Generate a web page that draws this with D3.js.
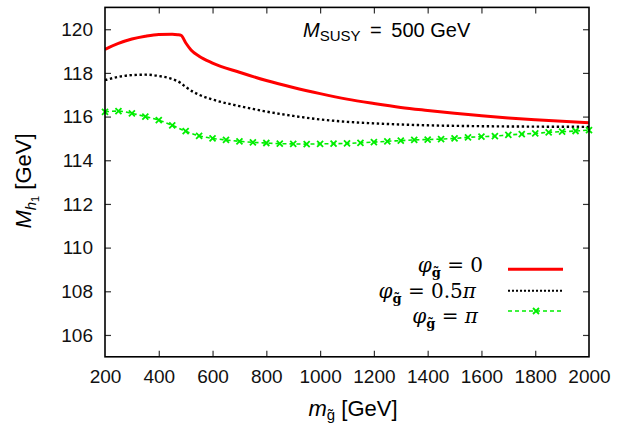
<!DOCTYPE html>
<html><head><meta charset="utf-8">
<script src="https://cdn.jsdelivr.net/npm/d3@7"></script>
<style>body{margin:0;background:#fff}svg{display:block}</style>
</head><body>
<svg id="c" width="617" height="424"></svg>
<script>
const xTicks = [200,400,600,800,1000,1200,1400,1600,1800,2000];
const yTicks = [106,108,110,112,114,116,118,120];

const redMass = [200,250,300,350,400,450,470,483,500,520,550,600,700,800,900,1000,1100,1200,1300,1400,1500,1600,1700,1800,1900,2000];
const redVal  = [119.08,119.35,119.55,119.68,119.76,119.77,119.75,119.72,119.38,119.05,118.76,118.45,118.03,117.65,117.33,117.05,116.80,116.60,116.42,116.28,116.15,116.04,115.94,115.86,115.79,115.72];

const blkMass = [200,250,300,350,400,450,480,500,530,550,600,700,800,900,1000,1100,1200,1400,1600,1800,2000];
const blkVal  = [117.67,117.82,117.90,117.92,117.86,117.72,117.55,117.36,117.12,117.00,116.78,116.48,116.23,116.03,115.87,115.76,115.69,115.60,115.56,115.54,115.53];

const grnMass = [200,250,300,350,400,450,500,550,600,650,700,750,800,850,900,950,1000,1050,1100,1150,1200,1250,1300,1350,1400,1450,1500,1550,1600,1650,1700,1750,1800,1850,1900,1950,2000];
const grnVal  = [116.22,116.25,116.15,116.00,115.84,115.60,115.33,115.12,115.00,114.93,114.87,114.82,114.79,114.76,114.75,114.74,114.75,114.76,114.77,114.80,114.83,114.87,114.90,114.93,114.95,114.97,115.00,115.05,115.08,115.11,115.16,115.20,115.23,115.28,115.31,115.34,115.38];

const svg = d3.select("#c");
const L=105, R=589, T=7.4, B=356.8;
const x = d3.scaleLinear().domain([200,2000]).range([L,R]);
const y = d3.scaleLinear().domain([105,121]).range([B,T]);
const sans = "'Liberation Sans', Arial, sans-serif";
const serif = "'DejaVu Serif', 'Liberation Serif', serif";

// ticks (inward on all sides)
const gx = svg.append("g").attr("transform",`translate(0,${B})`)
  .call(d3.axisBottom(x).tickValues(xTicks).tickSize(-6).tickPadding(13).tickFormat(d3.format("d")));
const gxt = svg.append("g").attr("transform",`translate(0,${T})`)
  .call(d3.axisTop(x).tickValues(xTicks).tickSize(-6).tickFormat(""));
const gy = svg.append("g").attr("transform",`translate(${L},0)`)
  .call(d3.axisLeft(y).tickValues(yTicks).tickSize(-6).tickPadding(12).tickFormat(d3.format("d")));
const gyr = svg.append("g").attr("transform",`translate(${R},0)`)
  .call(d3.axisRight(y).tickValues(yTicks).tickSize(-6).tickFormat(""));
[gx,gxt,gy,gyr].forEach(g=>{
  g.select(".domain").remove();
  g.selectAll(".tick line").attr("stroke","#333").attr("stroke-width",1.2);
  g.selectAll("text").attr("font-family",sans).attr("font-size",19).attr("fill","#111");
});
gx.selectAll("text").attr("dy","0.71em");
gx.selectAll(".tick").filter(d=>d===200||d===2000).select("line").remove();
gxt.selectAll(".tick").filter(d=>d===200||d===2000).select("line").remove();

// curves
const line = d3.line().curve(d3.curveMonotoneX);
svg.append("clipPath").attr("id","clp").append("rect")
  .attr("x",L).attr("y",T).attr("width",R-L).attr("height",B-T);
const plot = svg.append("g").attr("clip-path","url(#clp)");

const grnPts = grnMass.map((m,i)=>[x(m),y(grnVal[i])]);
plot.append("path").attr("d",line(grnPts)).attr("fill","none")
  .attr("stroke","#00ee00").attr("stroke-width",1.6).attr("stroke-dasharray","4,3");
const cross = (g,px,py,s)=>{
  g.append("path").attr("d",`M${px-s},${py-s}L${px+s},${py+s}M${px-s},${py+s}L${px+s},${py-s}`)
   .attr("stroke","#00ee00").attr("stroke-width",1.8).attr("fill","none");
};
grnPts.forEach(p=>cross(svg,p[0],p[1],3));

plot.append("path").attr("d",line(blkMass.map((m,i)=>[x(m),y(blkVal[i])]))).attr("fill","none")
  .attr("stroke","#000").attr("stroke-width",2.4).attr("stroke-dasharray","2.4,2.6");

plot.append("path").attr("d",line(redMass.map((m,i)=>[x(m),y(redVal[i])]))).attr("fill","none")
  .attr("stroke","#ff0000").attr("stroke-width",3);

// frame
svg.append("rect").attr("x",L).attr("y",T).attr("width",R-L).attr("height",B-T)
  .attr("fill","none").attr("stroke","#000").attr("stroke-width",1.6);

// title
const title = svg.append("text").attr("x",303).attr("y",37).attr("font-family",sans).attr("font-size",20).attr("fill","#000");
title.append("tspan").attr("font-style","italic").text("M");
title.append("tspan").attr("font-size",15).attr("dy",4).text("SUSY");
title.append("tspan").attr("dy",-4).text(" \u2009=\u2009 500 GeV");

// x label
const xl = svg.append("text").attr("x",353).attr("y",416).attr("text-anchor","middle")
  .attr("font-family",sans).attr("font-size",22).attr("fill","#000");
xl.append("tspan").attr("font-style","italic").text("m");
xl.append("tspan").attr("font-size",15).attr("dy",4).text("g\u0303");
xl.append("tspan").attr("dy",-4).text("  [GeV]");

// y label
const yl = svg.append("text").attr("transform","translate(31,181) rotate(-90)").attr("text-anchor","middle")
  .attr("font-family",sans).attr("font-size",22).attr("fill","#000");
yl.append("tspan").attr("font-style","italic").text("M");
yl.append("tspan").attr("font-style","italic").attr("font-size",15).attr("dy",5).text("h");
yl.append("tspan").attr("font-size",11).attr("dy",3).text("1");
yl.append("tspan").attr("dy",-8).text("  [GeV]");

// legend
const legLabels = ["0","0.5","\u03C0"];
const legPi = [false,true,false];
const legTextY = [272,298,323];
const legTextX = [483,476,478];
const legLineY = [269.3,290.7,311];
const legStyles = [
  {stroke:"#ff0000", w:3, dash:null},
  {stroke:"#000", w:2, dash:"2,2"},
  {stroke:"#00ee00", w:1.6, dash:"4,3"}
];
legLabels.forEach((lab,i)=>{
  const t = svg.append("text").attr("x",legTextX[i]).attr("y",legTextY[i]).attr("text-anchor","end")
    .attr("font-family",serif).attr("font-size",20).attr("fill","#000");
  t.append("tspan").attr("font-style","italic").text("\u03C6");
  t.append("tspan").attr("font-size",13).attr("dy",5).attr("font-weight","bold").text("g\u0303");
  t.append("tspan").attr("dy",-5).text(" = ");
  t.append("tspan").attr("font-style", lab==="\u03C0"?"italic":"normal").text(lab);
  if (legPi[i]) t.append("tspan").attr("font-style","italic").text("\u03C0");
  const st = legStyles[i];
  const ln = svg.append("line").attr("x1",508).attr("x2",563).attr("y1",legLineY[i]).attr("y2",legLineY[i])
    .attr("stroke",st.stroke).attr("stroke-width",st.w);
  if (st.dash) ln.attr("stroke-dasharray",st.dash);
  if (i===2) cross(svg,536,legLineY[i],3);
});
</script>
</body></html>
